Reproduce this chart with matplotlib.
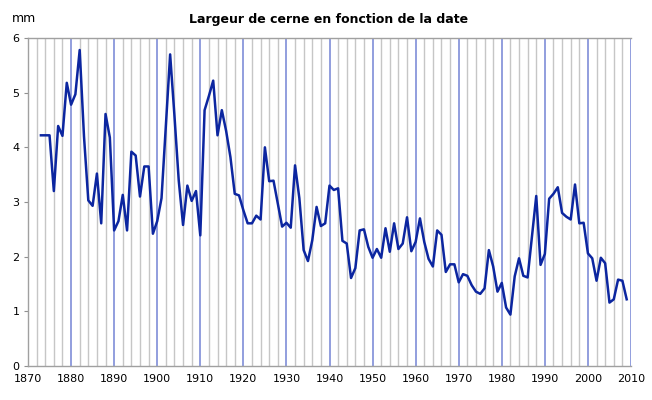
import matplotlib.pyplot as plt
import numpy as np

# ring width per year (mm)
years = list(range(1873, 2010))
widths = [
    4.22, 4.22, 4.22, 3.20, 4.39, 4.21, 5.18,            # 1873-1879
    4.78, 4.97, 5.78, 4.20, 3.03, 2.93, 3.52, 2.61, 4.61, 4.18,  # 1880s
    2.48, 2.65, 3.13, 2.48, 3.92, 3.85, 3.10, 3.65, 3.65, 2.42,  # 1890s
    2.65, 3.07, 4.40, 5.70, 4.58, 3.39, 2.58, 3.30, 3.02, 3.20,  # 1900s
    2.39, 4.68, 4.94, 5.22, 4.22, 4.68, 4.30, 3.82, 3.15, 3.12,  # 1910s
    2.85, 2.61, 2.61, 2.75, 2.68, 4.00, 3.38, 3.39, 2.97, 2.55,  # 1920s
    2.62, 2.53, 3.67, 3.07, 2.12, 1.92, 2.30, 2.91, 2.56, 2.61,  # 1930s
    3.30, 3.22, 3.25, 2.29, 2.24, 1.61, 1.79, 2.48, 2.50, 2.18,  # 1940s
    1.98, 2.14, 1.98, 2.52, 2.09, 2.61, 2.14, 2.24, 2.72, 2.10,  # 1950s
    2.27, 2.70, 2.27, 1.96, 1.82, 2.48, 2.40, 1.72, 1.86, 1.86,  # 1960s
    1.53, 1.68, 1.65, 1.48, 1.36, 1.32, 1.42, 2.12, 1.82, 1.36,  # 1970s
    1.52, 1.07, 0.94, 1.64, 1.97, 1.65, 1.62, 2.36, 3.11, 1.85,  # 1980s
    2.05, 3.06, 3.15, 3.27, 2.80, 2.73, 2.68, 3.32, 2.61, 2.62,  # 1990s
    2.06, 1.97, 1.56, 1.98, 1.88, 1.16, 1.22, 1.58, 1.56, 1.22,  # 2000s
]

fig = plt.figure(figsize=(6.52, 4.0), dpi=100)
ax = fig.add_axes([28 / 652, 1 - 366 / 400, (631 - 28) / 652, (366 - 38) / 400])

# vertical grid: grey every 2 years, blue every decade
for yr in range(1872, 2010, 2):
    if yr % 10 != 0:
        ax.axvline(yr, color='#c6c6c6', lw=1.0, zorder=0)
for yr in range(1880, 2011, 10):
    ax.axvline(yr, color='#7484d4', lw=1.1, zorder=1)

ax.plot(years, widths, color='#0c26a0', lw=1.8, zorder=3)

ax.set_xlim(1870, 2010)
ax.set_ylim(0, 6)
ax.set_xticks(range(1870, 2011, 10))
ax.set_yticks(range(0, 7))
ax.tick_params(axis='x', length=0, labelsize=8, pad=6)
ax.tick_params(axis='y', length=3, color='#909090', labelsize=8, pad=3)

for side in ['left', 'bottom', 'top']:
    ax.spines[side].set_color('#a0a0a0')
    ax.spines[side].set_linewidth(1)
ax.spines['right'].set_visible(False)

fig.text(329 / 652, 1 - 20 / 400, 'Largeur de cerne en fonction de la date',
         ha='center', va='center', fontsize=9, fontweight='bold')
fig.text(12 / 652, 1 - 19 / 400, 'mm', ha='left', va='center', fontsize=9)

fig.savefig('out.png', dpi=100)
